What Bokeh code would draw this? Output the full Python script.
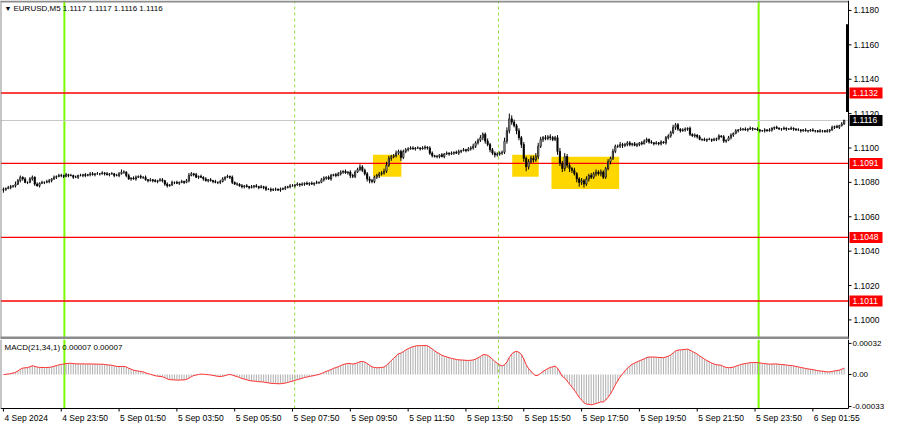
import numpy as np
from bokeh.plotting import figure
from bokeh.layouts import column
from bokeh.models import ColumnDataSource, Span, Label, BoxAnnotation
from bokeh.core.properties import value
from bokeh.embed import file_html
from bokeh.resources import INLINE

# ---------------- data (EURUSD M5, pips above 1.1000) ----------------
first_open = 75.5
close_pips = [
    76, 76.5, 77, 77.5, 78, 79, 81, 83, 82, 80,
    80, 82, 83, 79, 78, 79.5, 80, 80, 80.5, 81,
    82, 83, 83.5, 84, 84, 83.5, 84.5, 84, 84, 83,
    83, 84, 84, 84.5, 84, 84.5, 85, 84.5, 85, 85,
    85, 85.5, 85, 84.5, 85, 85, 84, 84, 85, 86,
    86, 84, 82, 82.5, 82, 83, 83.5, 83, 83, 81.5,
    81, 81.5, 81, 80.5, 81, 81.5, 81, 79, 78, 78.5,
    80, 80, 79.5, 80, 80.5, 80, 81, 84, 85, 84.5,
    83, 83.5, 83, 82, 81, 81.5, 81, 80.5, 80, 80,
    80.5, 82, 83, 83.5, 83, 80, 79, 79, 78, 77.5,
    78, 77.5, 77, 77.5, 78, 77.5, 77, 77.5, 77, 76,
    76, 75.5, 76, 76, 75.5, 76, 76.5, 77, 77.5, 78,
    78, 78.5, 79, 78.5, 79, 79.5, 79, 79.5, 79, 79.5,
    80, 80, 81.5, 82.5, 83, 82, 84, 84.5, 84, 85,
    86, 86.5, 85.5, 86, 84, 83.5, 86, 87.5, 89, 87,
    85, 82, 81, 80.5, 83, 84, 85, 85.5, 86.5, 90,
    94, 95, 95.5, 97, 98, 94.5, 98, 99, 99.5, 100,
    99.5, 100, 100, 99.5, 100, 100.5, 100, 97, 95.5, 95,
    95, 96, 95, 96.5, 97, 96.5, 97, 97.5, 97, 98,
    98.5, 99, 98.5, 99.5, 100, 101, 103, 104.5, 106, 108,
    104, 102, 99, 97, 96, 96.5, 97, 97.5, 104, 110,
    117, 115, 113, 110, 106, 102, 94, 89, 92, 94,
    93, 95, 101, 105, 106, 105.5, 106.5, 106, 105, 106,
    98, 91, 88, 95, 90, 88, 87, 85, 82, 80,
    81, 79, 82, 84, 83, 85, 86, 85, 86, 83,
    88, 92, 94, 98, 101, 101, 102, 101.5, 102, 103,
    102, 102.5, 101.5, 102, 103, 102.5, 104, 105, 103.5, 103,
    102.5, 103, 102.5, 103.5, 103, 106, 107, 109, 112, 113.5,
    111, 110, 110.5, 111, 111.5, 108, 107, 107.5, 106.5, 105,
    105, 104.5, 105, 105, 104.5, 105, 105.5, 107, 106.5, 104,
    104.5, 106, 107.5, 108.5, 110, 110.5, 111, 111, 110.5, 111,
    111.5, 111, 111, 110.5, 110, 110, 110.5, 110, 110.5, 111.5,
    112, 111.5, 111, 111, 111.5, 111, 111, 111.5, 111, 110.5,
    110.5, 110, 110.5, 110, 110, 110.5, 110, 110, 109.5, 110,
    110, 109.5, 110, 110.5, 112, 112.5, 112, 113, 114, 116,
]
wick_up = [
    1, 0.5, 1, 1, 0.5, 1.5, 1, 1, 0.5, 1,
    0.5, 1, 1, 0.5, 1, 0.5, 1, 0.5, 1, 1,
    0.5, 1, 0.5, 1, 1, 0.5, 1, 0.5, 1, 0.5,
    1, 0.5, 1, 0.5, 1, 0.5, 1, 1, 0.5, 1,
    0.5, 1, 0.5, 1, 0.5, 1, 0.5, 1, 1, 1.5,
    1, 0.5, 1, 0.5, 1, 1, 0.5, 1, 0.5, 1,
    0.5, 1, 0.5, 1, 0.5, 1, 1, 0.5, 1, 0.5,
    1, 0.5, 1, 0.5, 1, 0.5, 1, 1.5, 1, 0.5,
    1, 0.5, 1, 0.5, 1, 0.5, 1, 0.5, 1, 0.5,
    1, 1, 0.5, 1, 0.5, 1, 0.5, 1, 0.5, 1,
    0.5, 1, 0.5, 1, 0.5, 1, 0.5, 1, 0.5, 1,
    0.5, 1, 0.5, 1, 0.5, 1, 0.5, 1, 0.5, 1,
    1, 0.5, 1, 0.5, 1, 0.5, 1, 0.5, 1, 0.5,
    1, 0.5, 1, 1, 0.5, 1, 1, 0.5, 1, 1,
    1, 0.5, 1, 0.5, 1, 1, 1, 1, 1.5, 1,
    1, 1, 1.5, 1, 1, 1, 1, 1, 1.5, 2,
    1.5, 1, 1, 1.5, 1, 1, 1, 1, 1, 1,
    1, 0.5, 1, 0.5, 1, 1, 0.5, 1, 1, 0.5,
    1, 0.5, 1, 0.5, 1, 0.5, 1, 0.5, 1, 1,
    0.5, 1, 0.5, 1, 1, 1.5, 1, 1, 1.5, 1,
    1, 1.5, 1, 1, 1, 1, 1, 1, 2, 2,
    3, 2, 1.5, 1, 1.5, 1, 1.5, 1, 1.5, 1.5,
    1.5, 2, 2, 1.5, 1, 1.5, 1, 1.5, 1, 1,
    1.5, 2, 1.5, 2, 1.5, 1.5, 1, 1.5, 1, 1,
    1.5, 1, 1.5, 1, 1.5, 1, 1.5, 1, 1.5, 1,
    1, 1.5, 1, 1.5, 1, 1, 1.5, 1, 1, 1,
    1, 0.5, 1, 1, 0.5, 1, 1, 1, 0.5, 1,
    0.5, 1, 0.5, 1, 0.5, 1, 1, 1, 1.5, 1,
    1, 0.5, 1, 1, 0.5, 1, 0.5, 1, 0.5, 1,
    0.5, 1, 0.5, 1, 0.5, 1, 0.5, 1, 0.5, 1,
    0.5, 1, 1, 0.5, 1, 0.5, 1, 0.5, 1, 0.5,
    1, 0.5, 0.5, 1, 0.5, 0.5, 1, 0.5, 1, 0.5,
    0.5, 1, 0.5, 0.5, 1, 0.5, 0.5, 1, 0.5, 0.5,
    1, 0.5, 0.5, 1, 0.5, 0.5, 1, 0.5, 0.5, 1,
    0.5, 0.5, 1, 0.5, 1, 0.5, 1, 0.5, 1, 0.5,
]
wick_dn = [
    1.5, 1, 0.5, 1, 0.5, 1, 0.5, 1, 1, 0.5,
    1, 0.5, 1, 1, 0.5, 1, 0.5, 1, 0.5, 1,
    1, 0.5, 1, 0.5, 1, 1, 0.5, 1, 0.5, 1,
    0.5, 1, 0.5, 1, 1, 0.5, 1, 0.5, 1, 0.5,
    1, 0.5, 1, 0.5, 1, 0.5, 1, 0.5, 1, 0.5,
    1, 1, 0.5, 1, 0.5, 1, 0.5, 1, 1, 0.5,
    1, 0.5, 1, 0.5, 1, 0.5, 1, 1, 1, 0.5,
    0.5, 1, 0.5, 1, 0.5, 1, 0.5, 1, 0.5, 1,
    0.5, 1, 0.5, 1, 0.5, 1, 0.5, 1, 0.5, 1,
    1, 0.5, 1, 0.5, 1, 1, 0.5, 1, 0.5, 1,
    1, 0.5, 1, 0.5, 1, 0.5, 1, 0.5, 1, 1,
    0.5, 1, 0.5, 1, 0.5, 1, 0.5, 1, 0.5, 1,
    0.5, 1, 0.5, 1, 0.5, 1, 0.5, 1, 0.5, 1,
    0.5, 1, 0.5, 1, 1, 0.5, 1, 0.5, 1, 0.5,
    1, 1, 0.5, 1, 1.5, 1, 1, 0.5, 1, 1,
    1, 1.5, 1.5, 1, 1, 1, 1.5, 1, 1, 1,
    1, 1.5, 1, 1, 1, 2, 1, 1, 1, 0.5,
    0.5, 1, 0.5, 1, 0.5, 1, 1, 1, 1, 0.5,
    1, 1, 0.5, 1, 0.5, 1, 0.5, 1, 0.5, 1,
    1, 0.5, 1, 0.5, 1, 1, 1, 1, 1, 1.5,
    1.5, 1, 1.5, 1, 1.5, 1, 1, 1, 1, 1.5,
    1.5, 1.5, 1, 2, 1.5, 2, 2, 2.5, 1.5, 1,
    1.5, 1, 1.5, 1, 1.5, 1, 1, 1.5, 1, 1,
    2, 1.5, 2, 1.5, 1.5, 2, 1.5, 1, 2, 2.5,
    1.5, 2, 1, 1.5, 1, 1, 1.5, 1, 1.5, 1,
    1, 1, 1.5, 1, 1, 1, 1, 1.5, 1, 1,
    1, 1, 0.5, 1, 1, 1, 0.5, 1, 1, 0.5,
    1, 0.5, 1, 1, 0.5, 1, 1, 1, 1, 1.5,
    1, 1, 0.5, 1, 1, 1, 0.5, 1, 1, 0.5,
    1, 0.5, 1, 0.5, 1, 0.5, 1, 1, 0.5, 1,
    1, 0.5, 1, 1, 0.5, 1, 0.5, 1, 0.5, 1,
    0.5, 1, 0.5, 0.5, 1, 0.5, 1, 0.5, 0.5, 1,
    1, 0.5, 0.5, 1, 0.5, 1, 0.5, 0.5, 1, 0.5,
    0.5, 1, 0.5, 0.5, 1, 0.5, 0.5, 1, 0.5, 0.5,
    1, 0.5, 0.5, 1, 0.5, 1, 0.5, 1, 0.5, 0.5,
]
assert len(close_pips) == 350 and len(wick_up) == 350 and len(wick_dn) == 350

levels = [1.1132, 1.1091, 1.1048, 1.1011]
bid_price = 1.1116
spike_lo, spike_hi = 1.1121, 1.1172

# highlight rectangles: bar index range and pip range
box_x0 = [153.4, 211.2, 227.5]
box_x1 = [165.2, 222.2, 255.6]
box_lo = [83.3, 83.3, 76.1]
box_hi = [96.1, 96.1, 94.9]

day_lines = [25.3, 313.5]
session_lines = [120.9, 205.5]

tick_bars = [0, 24, 48, 72, 96, 120, 144, 168, 192, 216, 240, 264, 288, 312, 336]
tick_labels = ["4 Sep 2024", "4 Sep 23:50", "5 Sep 01:50", "5 Sep 03:50", "5 Sep 05:50",
               "5 Sep 07:50", "5 Sep 09:50", "5 Sep 11:50", "5 Sep 13:50", "5 Sep 15:50",
               "5 Sep 17:50", "5 Sep 19:50", "5 Sep 21:50", "5 Sep 23:50", "6 Sep 01:55"]
price_ticks = [1.1000, 1.1020, 1.1040, 1.1060, 1.1080, 1.1100, 1.1120, 1.1140, 1.1160, 1.1180]
macd_ticks = [0.00032, 0.0, -0.00033]
macd_tick_labels = ["0.00032", "0.00", "-0.00033"]

# ---------------- derived ----------------
n = len(close_pips)
x = np.arange(n)
close = 1.1 + np.array(close_pips) / 10000.0
opn = np.concatenate([[1.1 + first_open / 10000.0], close[:-1]])
high = np.maximum(opn, close) + np.array(wick_up) / 10000.0
low = np.minimum(opn, close) - np.array(wick_dn) / 10000.0
bull = close >= opn
src = ColumnDataSource(dict(
    x=x, high=high, low=low,
    top=np.maximum(opn, close), bottom=np.minimum(opn, close),
    fill=["white" if b else "black" for b in bull],
))

def ema(v, period):
    a = 2.0 / (period + 1)
    out = np.empty_like(v)
    out[0] = v[0]
    for i in range(1, len(v)):
        out[i] = a * v[i] + (1 - a) * out[i - 1]
    return out

macd = ema(close, 21) - ema(close, 34)
msrc = ColumnDataSource(dict(x=x, macd=macd))

# ---------------- layout geometry ----------------
FONT = "Liberation Sans"
FS = "8.5px"
W = 884            # total width
PW = 848           # chart area width (axis area to the right of it)
H1 = 339           # main panel height (incl. 3px separator at its bottom)
MH = 69            # MACD drawing height
XH = 17            # date axis height
X0, X1 = -1.22, 350.8
ppb = PW / (X1 - X0)                     # px per bar
XR = X0 + W / ppb
Y0, Y1 = 1.09886, 1.11858
ppp = (Y1 - Y0) / H1                     # price per px
M0, M1 = -0.00035, 0.00036
ppm = (M1 - M0) / MH
MB = M0 - XH * ppm

def dx(px):
    return px / ppb

# ---------------- main price panel ----------------
p1 = figure(frame_width=W, frame_height=H1, x_range=(X0, XR), y_range=(Y0, Y1),
            output_backend="svg", toolbar_location=None, title=None,
            x_axis_location=None, y_axis_location=None, min_border=0)
p1.grid.visible = False
p1.outline_line_color = None
p1.background_fill_color = "white"
p1.border_fill_color = "white"

for bx0, bx1, blo, bhi in zip(box_x0, box_x1, box_lo, box_hi):
    p1.add_layout(BoxAnnotation(left=bx0, right=bx1, bottom=1.1 + blo / 10000.0,
                                top=1.1 + bhi / 10000.0, fill_color="#FFD700", fill_alpha=1.0,
                                line_alpha=0, level="underlay"))
for d in day_lines:
    p1.add_layout(Span(location=d, dimension="height", line_color="#7CFC00",
                       line_width=2, level="underlay"))
for d in session_lines:
    p1.add_layout(Span(location=d, dimension="height", line_color="#8fdf3f",
                       line_width=1, line_dash="3 3", level="underlay"))

nl = len(levels)
p1.segment(x0=[X0], y0=[bid_price], x1=[X1], y1=[bid_price], line_color="#c8c8c8", line_width=1)
p1.segment(x0=[X0] * nl, y0=levels, x1=[X1] * nl, y1=levels, line_color="#ff0000", line_width=1.3)

p1.segment(x0="x", y0="low", x1="x", y1="high", source=src, line_color="black", line_width=1)
p1.vbar(x="x", width=0.5, top="top", bottom="bottom", source=src,
        fill_color="fill", line_color="black", line_width=0.8)

# borders and price axis
p1.segment(x0=[X0, X0], y0=[Y1 - ppp, Y0], x1=[X1, X0], y1=[Y1 - ppp, Y1],
           line_color="#8c8c8c", line_width=2)
p1.segment(x0=[X1], y0=[Y0], x1=[X1], y1=[Y1], line_color="black", line_width=1)
npt = len(price_ticks)
p1.segment(x0=[X1] * npt, y0=price_ticks, x1=[X1 + dx(3)] * npt, y1=price_ticks,
           line_color="black", line_width=1)
p1.text(x=[X1 + dx(5)] * npt, y=price_ticks, text=[f"{t:.4f}" for t in price_ticks],
        text_font=value(FONT), text_font_size=value(FS), text_color="black",
        text_align="left", text_baseline="middle")

# last-bar spike on the axis edge
p1.segment(x0=[X1 - dx(1)], y0=[spike_lo], x1=[X1 - dx(1)], y1=[spike_hi],
           line_color="black", line_width=3)

# price tags
p1.rect(x=[X1 + dx(17.5)] * nl, y=levels, width=33, height=11, width_units="screen",
        height_units="screen", fill_color="#ff0000", line_color=None)
p1.text(x=[X1 + dx(4)] * nl, y=levels, text=[f"{lv:.4f}" for lv in levels],
        text_font=value(FONT), text_font_size=value(FS), text_color="white",
        text_align="left", text_baseline="middle")
p1.rect(x=[X1 + dx(17.5)], y=[bid_price], width=33, height=11, width_units="screen",
        height_units="screen", fill_color="black", line_color=None)
p1.text(x=[X1 + dx(4)], y=[bid_price], text=[f"{bid_price:.4f}"],
        text_font=value(FONT), text_font_size=value(FS), text_color="white",
        text_align="left", text_baseline="middle")

# separator bar at the bottom of the main panel
p1.add_layout(BoxAnnotation(left=X0, right=X1, bottom=Y0, top=Y0 + 3 * ppp,
                            fill_color="#8c8c8c", fill_alpha=1.0, line_alpha=0))

p1.add_layout(Label(x=X0, y=Y1, text="\u25BC", x_offset=4, y_offset=-4,
                    text_baseline="top", text_align="left",
                    text_font=FONT, text_font_size="7px", text_color="black"))
p1.add_layout(Label(x=X0, y=Y1, text="EURUSD,M5  1.1117 1.1117 1.1116 1.1116",
                    x_offset=13, y_offset=-3, text_baseline="top", text_align="left",
                    text_font=FONT, text_font_size="8px", text_color="black"))

# ---------------- MACD panel ----------------
p2 = figure(frame_width=W, frame_height=MH + XH, x_range=p1.x_range, y_range=(MB, M1),
            output_backend="svg", toolbar_location=None, title=None,
            x_axis_location=None, y_axis_location=None, min_border=0)
p2.grid.visible = False
p2.outline_line_color = None
p2.background_fill_color = "white"
p2.border_fill_color = "white"

nd = len(day_lines)
p2.segment(x0=day_lines, y0=[M0] * nd, x1=day_lines, y1=[M1] * nd,
           line_color="#7CFC00", line_width=2)
ns = len(session_lines)
p2.segment(x0=session_lines, y0=[M0] * ns, x1=session_lines, y1=[M1] * ns,
           line_color="#8fdf3f", line_width=1, line_dash="3 3")

p2.vbar(x="x", width=0.45, top="macd", bottom=0, source=msrc,
        fill_color="#b4b4b4", line_color=None)
p2.line(x="x", y="macd", source=msrc, line_color="#ff3030", line_width=1)

# axes of the MACD panel (drawn)
p2.segment(x0=[X0, X1, X0], y0=[M0, M0, M0], x1=[X1, X1, X0], y1=[M0, M1, M1],
           line_color=["black", "black", "#8c8c8c"], line_width=[1, 1, 2])
nt = len(tick_bars)
p2.segment(x0=tick_bars, y0=[M0] * nt, x1=tick_bars, y1=[M0 - 3 * ppm] * nt,
           line_color="black", line_width=1)
p2.text(x=tick_bars, y=[M0 - 4 * ppm] * nt, text=tick_labels, x_offset=1,
        text_font=value(FONT), text_font_size=value(FS), text_color="black",
        text_align="left", text_baseline="top")
nm = len(macd_ticks)
p2.segment(x0=[X1] * nm, y0=macd_ticks, x1=[X1 + dx(3)] * nm, y1=macd_ticks,
           line_color="black", line_width=1)
p2.text(x=[X1 + dx(4)] * nm, y=macd_ticks, text=macd_tick_labels,
        text_font=value(FONT), text_font_size=value("8px"), text_color="black",
        text_align="left", text_baseline="middle")

p2.add_layout(Label(x=X0, y=M1, text="MACD(21,34,1) 0.00007 0.00007",
                    x_offset=4, y_offset=-3, text_baseline="top", text_align="left",
                    text_font=FONT, text_font_size="8px", text_color="black"))

layout = column(p1, p2, spacing=0)
open("out.html", "w").write(file_html(layout, INLINE))
